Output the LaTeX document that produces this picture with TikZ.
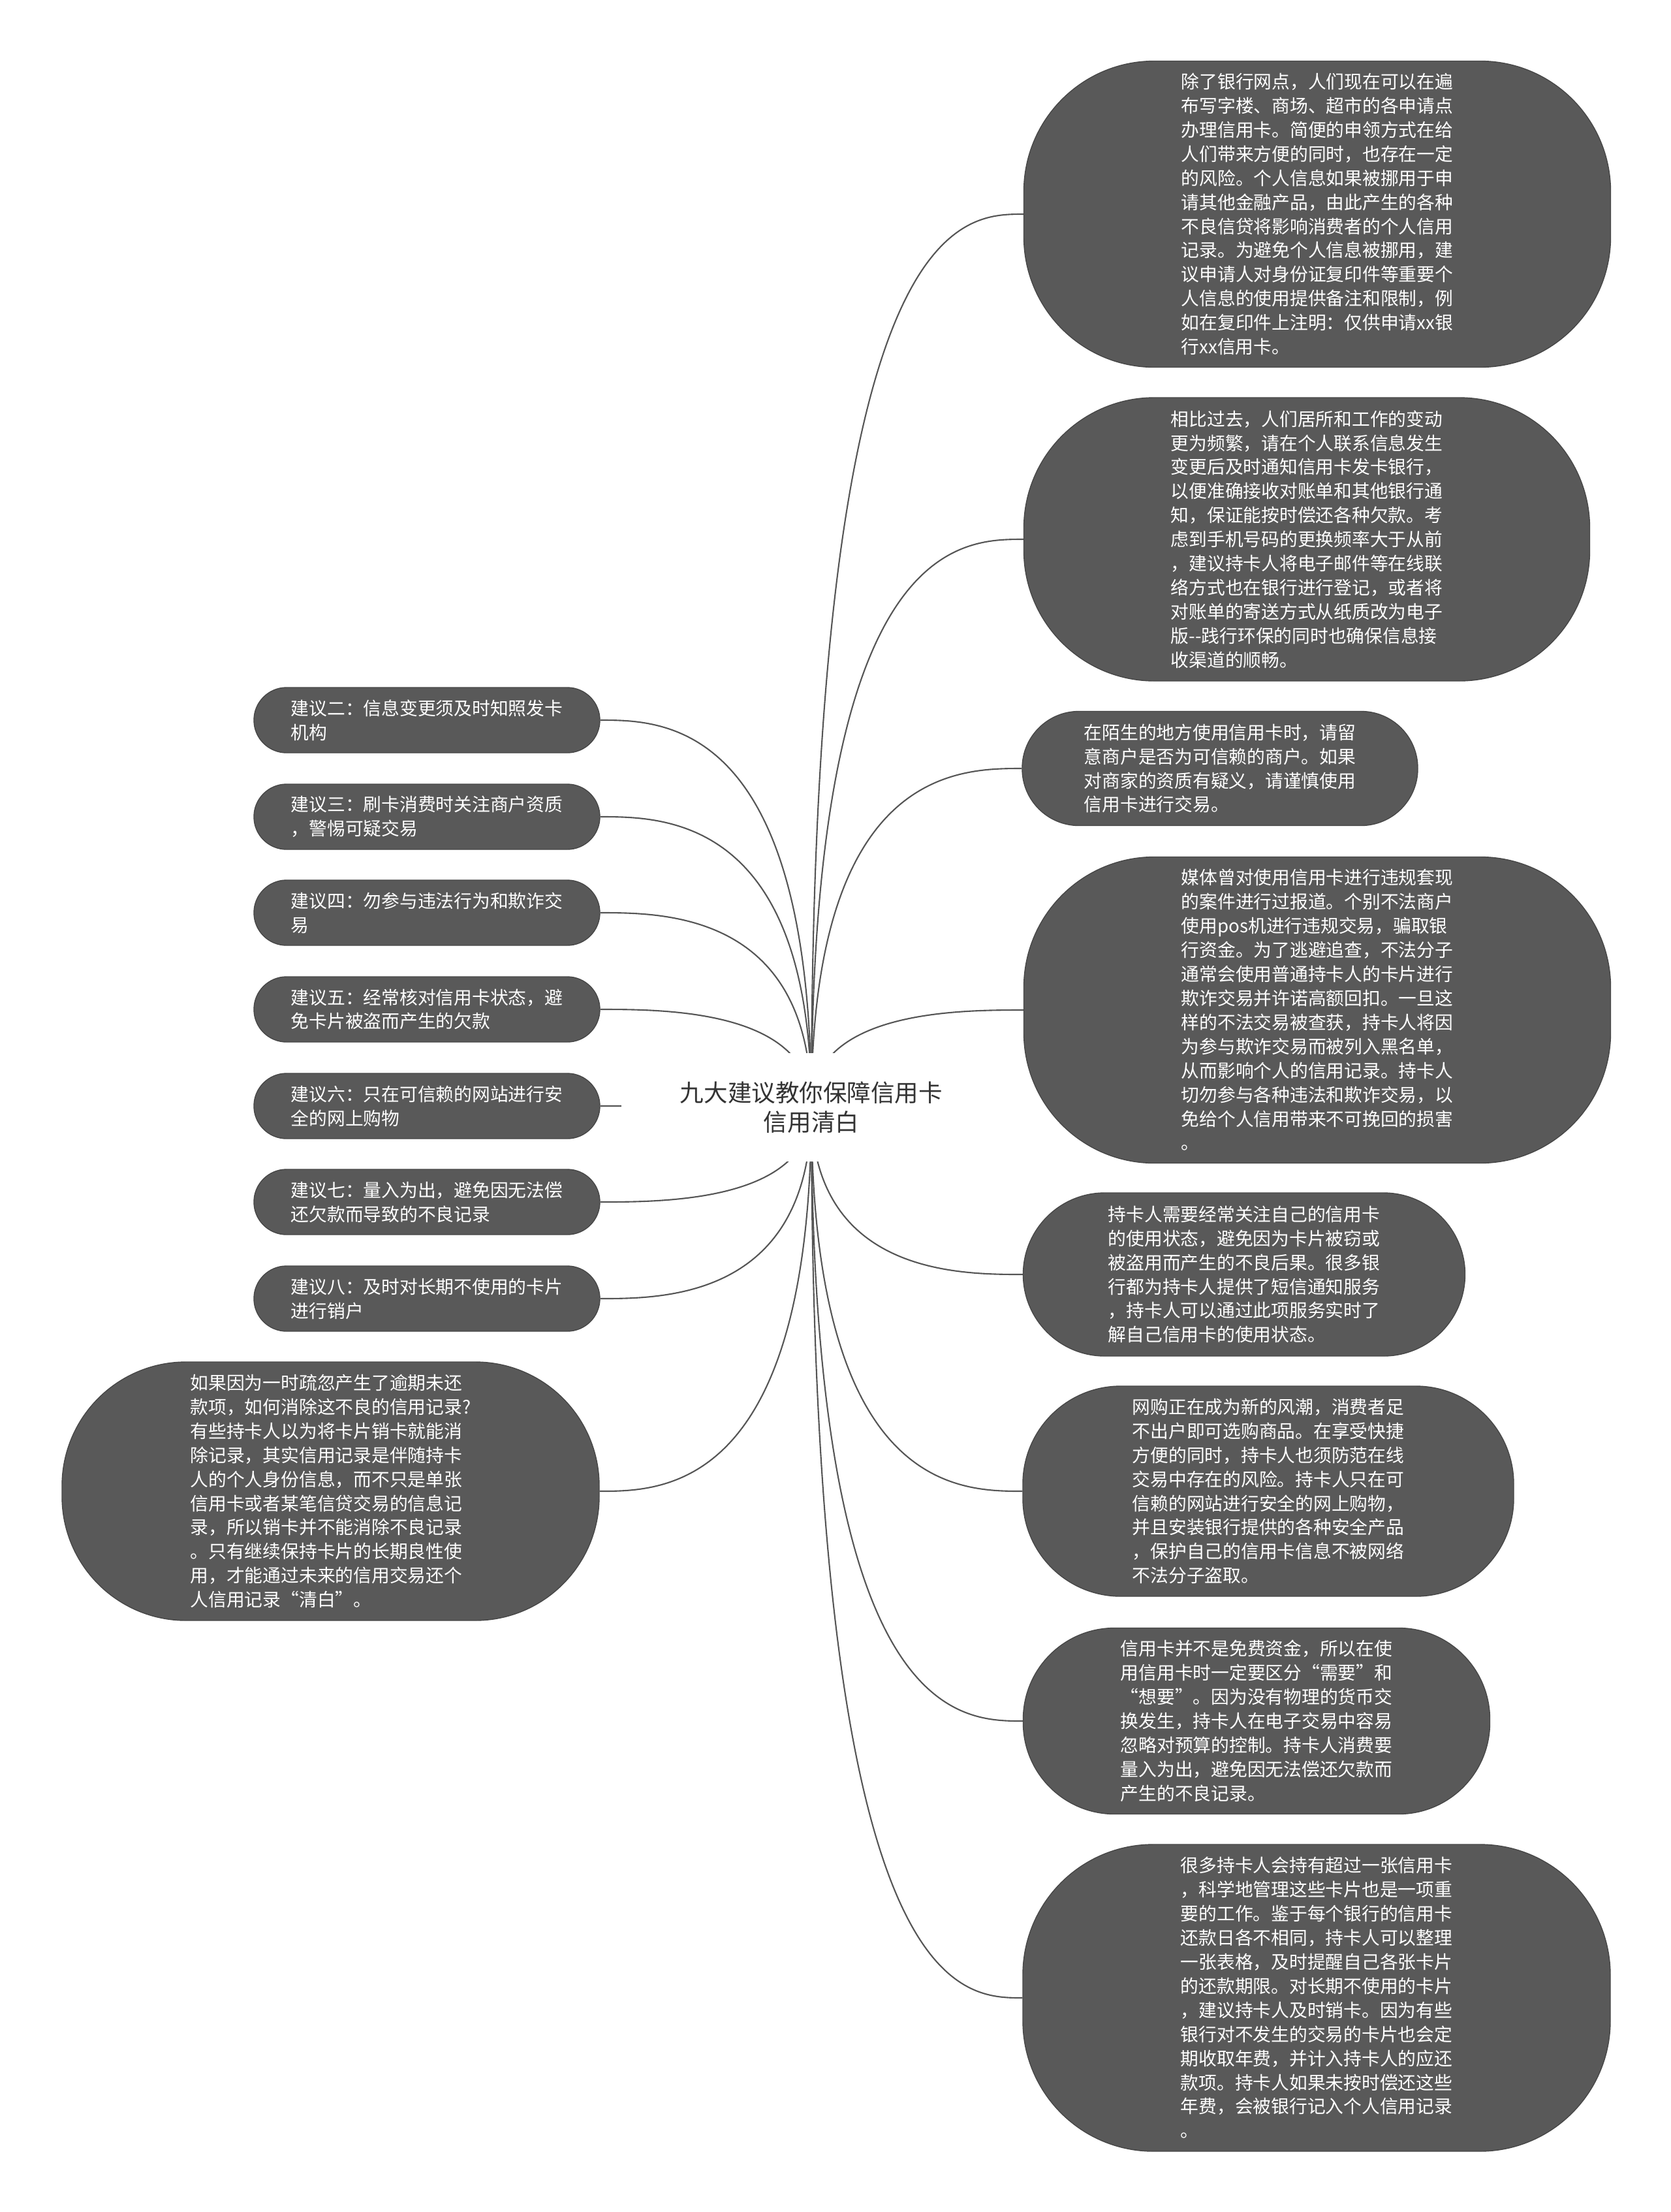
\documentclass[tikz,border=0pt]{standalone}
\usepackage{fontspec}
\newfontfamily\cjkfont{Noto Sans CJK SC}
\usepackage{tikz}
\usetikzlibrary{calc, backgrounds}
\definecolor{mapGray}{HTML}{595959}
\definecolor{mapEdge}{HTML}{474747}
\definecolor{mapLine}{HTML}{555555}
\definecolor{mapText}{HTML}{333333}

\begin{document}
\begin{tikzpicture}[
    bubble/.style={fill=mapGray, draw=mapEdge, line width=0.4pt, text=white, align=left, inner sep=0pt,
      rounded corners=#1, font=\cjkfont\fontsize{7.9pt}{10.5pt}\selectfont},
    hint/.style={bubble=0.5cm, minimum width=5.3cm, minimum height=1cm},
    topic/.style={fill=white, text=mapText, align=center, inner sep=0pt, minimum width=5.82cm,
      minimum height=1.66cm, font=\cjkfont\fontsize{10.4pt}{12.9pt}\selectfont},
    link/.style={draw=mapLine, line width=0.6pt}]

  \useasboundingbox (0,0) rectangle (25.6,-33.88);

  % centre
  \node[topic] (root) at (12.43,-16.96) {九大建议教你保障信用卡\\信用清白};

  % right side: details
  \node[bubble=2cm, minimum width=8.99cm, minimum height=4.69cm] (d1) at (20.18,-3.28)
    {除了银行网点，人们现在可以在遍\\布写字楼、商场、超市的各申请点\\办理信用卡。简便的申领方式在给\\人们带来方便的同时，也存在一定\\的风险。个人信息如果被挪用于申\\请其他金融产品，由此产生的各种\\不良信贷将影响消费者的个人信用\\记录。为避免个人信息被挪用，建\\议申请人对身份证复印件等重要个\\人信息的使用提供备注和限制，例\\如在复印件上注明：仅供申请xx银\\行xx信用卡。};
  \node[bubble=2cm, minimum width=8.67cm, minimum height=4.34cm] (d2) at (20.02,-8.26)
    {相比过去，人们居所和工作的变动\\更为频繁，请在个人联系信息发生\\变更后及时通知信用卡发卡银行，\\以便准确接收对账单和其他银行通\\知，保证能按时偿还各种欠款。考\\虑到手机号码的更换频率大于从前\\，建议持卡人将电子邮件等在线联\\络方式也在银行进行登记，或者将\\对账单的寄送方式从纸质改为电子\\版-{}-践行环保的同时也确保信息接\\收渠道的顺畅。};
  \node[bubble=0.87cm, minimum width=6.06cm, minimum height=1.75cm] (d3) at (18.69,-11.77)
    {在陌生的地方使用信用卡时，请留\\意商户是否为可信赖的商户。如果\\对商家的资质有疑义，请谨慎使用\\信用卡进行交易。};
  \node[bubble=2cm, minimum width=8.99cm, minimum height=4.69cm] (d4) at (20.18,-15.47)
    {媒体曾对使用信用卡进行违规套现\\的案件进行过报道。个别不法商户\\使用pos机进行违规交易，骗取银\\行资金。为了逃避追查，不法分子\\通常会使用普通持卡人的卡片进行\\欺诈交易并许诺高额回扣。一旦这\\样的不法交易被查获，持卡人将因\\为参与欺诈交易而被列入黑名单，\\从而影响个人的信用记录。持卡人\\切勿参与各种违法和欺诈交易，以\\免给个人信用带来不可挽回的损害\\。};
  \node[bubble=1.25cm, minimum width=6.77cm, minimum height=2.5cm] (d5) at (19.06,-19.52)
    {持卡人需要经常关注自己的信用卡\\的使用状态，避免因为卡片被窃或\\被盗用而产生的不良后果。很多银\\行都为持卡人提供了短信通知服务\\，持卡人可以通过此项服务实时了\\解自己信用卡的使用状态。};
  \node[bubble=1.5cm, minimum width=7.52cm, minimum height=3.22cm] (d6) at (19.43,-22.84)
    {网购正在成为新的风潮，消费者足\\不出户即可选购商品。在享受快捷\\方便的同时，持卡人也须防范在线\\交易中存在的风险。持卡人只在可\\信赖的网站进行安全的网上购物，\\并且安装银行提供的各种安全产品\\，保护自己的信用卡信息不被网络\\不法分子盗取。};
  \node[bubble=1.4cm, minimum width=7.15cm, minimum height=2.85cm] (d7) at (19.25,-26.36)
    {信用卡并不是免费资金，所以在使\\用信用卡时一定要区分“需要”和\\“想要”。因为没有物理的货币交\\换发生，持卡人在电子交易中容易\\忽略对预算的控制。持卡人消费要\\量入为出，避免因无法偿还欠款而\\产生的不良记录。};
  \node[bubble=2cm, minimum width=9cm, minimum height=4.7cm] (d8) at (20.17,-30.6)
    {很多持卡人会持有超过一张信用卡\\，科学地管理这些卡片也是一项重\\要的工作。鉴于每个银行的信用卡\\还款日各不相同，持卡人可以整理\\一张表格，及时提醒自己各张卡片\\的还款期限。对长期不使用的卡片\\，建议持卡人及时销卡。因为有些\\银行对不发生的交易的卡片也会定\\期收取年费，并计入持卡人的应还\\款项。持卡人如果未按时偿还这些\\年费，会被银行记入个人信用记录\\。};

  % left side: suggestions
  \node[hint] (s2) at (6.54,-11.03) {建议二：信息变更须及时知照发卡\\机构};
  \node[hint] (s3) at (6.54,-12.51) {建议三：刷卡消费时关注商户资质\\，警惕可疑交易};
  \node[hint] (s4) at (6.54,-13.98) {建议四：勿参与违法行为和欺诈交\\易};
  \node[hint] (s5) at (6.54,-15.46) {建议五：经常核对信用卡状态，避\\免卡片被盗而产生的欠款};
  \node[hint] (s6) at (6.54,-16.94) {建议六：只在可信赖的网站进行安\\全的网上购物};
  \node[hint] (s7) at (6.54,-18.41) {建议七：量入为出，避免因无法偿\\还欠款而导致的不良记录};
  \node[hint] (s8) at (6.54,-19.89) {建议八：及时对长期不使用的卡片\\进行销户};
  \node[bubble=1.9cm, minimum width=8.23cm, minimum height=3.96cm] (s1) at (5.065,-22.84)
    {如果因为一时疏忽产生了逾期未还\\款项，如何消除这不良的信用记录?\\有些持卡人以为将卡片销卡就能消\\除记录，其实信用记录是伴随持卡\\人的个人身份信息，而不只是单张\\信用卡或者某笔信贷交易的信息记\\录，所以销卡并不能消除不良记录\\。只有继续保持卡片的长期良性使\\用，才能通过未来的信用交易还个\\人信用记录“清白”。};

  \begin{scope}[on background layer]
    \fill[white] (0,0) rectangle (25.6,-33.88);
    \foreach \n in {d1,d2,d3,d4,d5,d6,d7,d8} {
      \draw[link] (root.center) .. controls (root.center |- \n.west) and ($(root.center |- \n.west)!0.7!(\n.west)$) .. (\n.west);
    }
    \foreach \n in {s1,s2,s3,s4,s5,s6,s7,s8} {
      \draw[link] (root.center) .. controls (root.center |- \n.east) and ($(root.center |- \n.east)!0.7!(\n.east)$) .. (\n.east);
    }
  \end{scope}
\end{tikzpicture}
\end{document}
